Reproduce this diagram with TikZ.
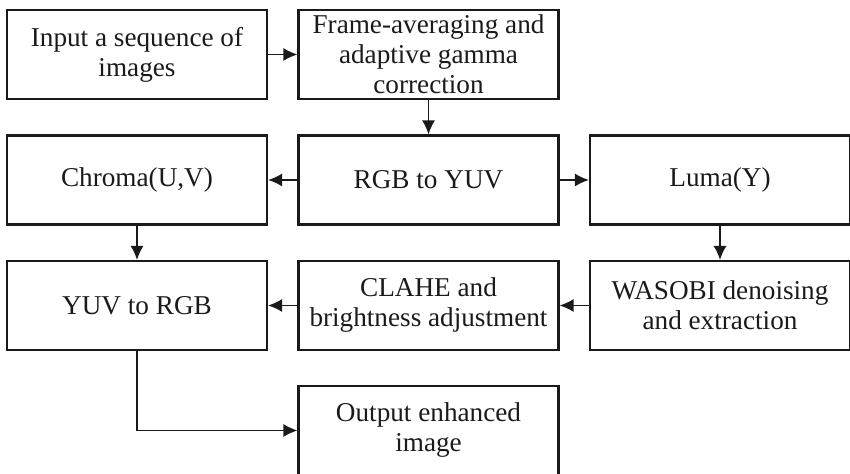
\documentclass[tikz,border=0pt]{standalone}
\usepackage{fontspec}
\setmainfont{Liberation Serif}
\usetikzlibrary{arrows.meta,positioning}
\definecolor{fcink}{HTML}{1A1A1A}
\tikzset{
  stage/.style={rectangle,draw=fcink,line width=1.1pt,minimum width=130pt,minimum height=44.5pt,
    inner sep=0pt,align=center,text=fcink,font=\fontsize{13.6}{15}\selectfont},
  flow/.style={-{Latex[length=7pt,width=6.5pt]},draw=fcink,line width=.7pt},
}

\begin{document}
\begin{tikzpicture}[x=.5pt,y=.5pt]
  \useasboundingbox (0,0) rectangle (850,474);
  % pipeline stages, three columns
  \node[stage] (input) at (137,419.5) {Input a sequence of\\images};
  \node[stage] (gamma) at (428.5,419.5) {Frame-averaging and\\adaptive gamma\\correction};
  \node[stage] (toyuv) at (428.5,294) {RGB to YUV};
  \node[stage] (chroma) at (137,294) {Chroma(U,V)};
  \node[stage] (luma) at (720,294) {Luma(Y)};
  \node[stage] (torgb) at (137,168.5) {YUV to RGB};
  \node[stage] (clahe) at (428.5,168.5) {CLAHE and\\brightness adjustment};
  \node[stage] (wasobi) at (720,168.5) {WASOBI denoising\\and extraction};
  \node[stage] (output) at (428.5,43.5) {Output enhanced\\image};
  % connectors
  \draw[flow] (input) -- (gamma);
  \draw[flow] (gamma) -- (toyuv);
  \draw[flow] (toyuv) -- (chroma);
  \draw[flow] (toyuv) -- (luma);
  \draw[flow] (chroma) -- (torgb);
  \draw[flow] (luma) -- (wasobi);
  \draw[flow] (wasobi) -- (clahe);
  \draw[flow] (clahe) -- (torgb);
  \draw[flow] (torgb.south) |- (output.west);
\end{tikzpicture}
\end{document}
